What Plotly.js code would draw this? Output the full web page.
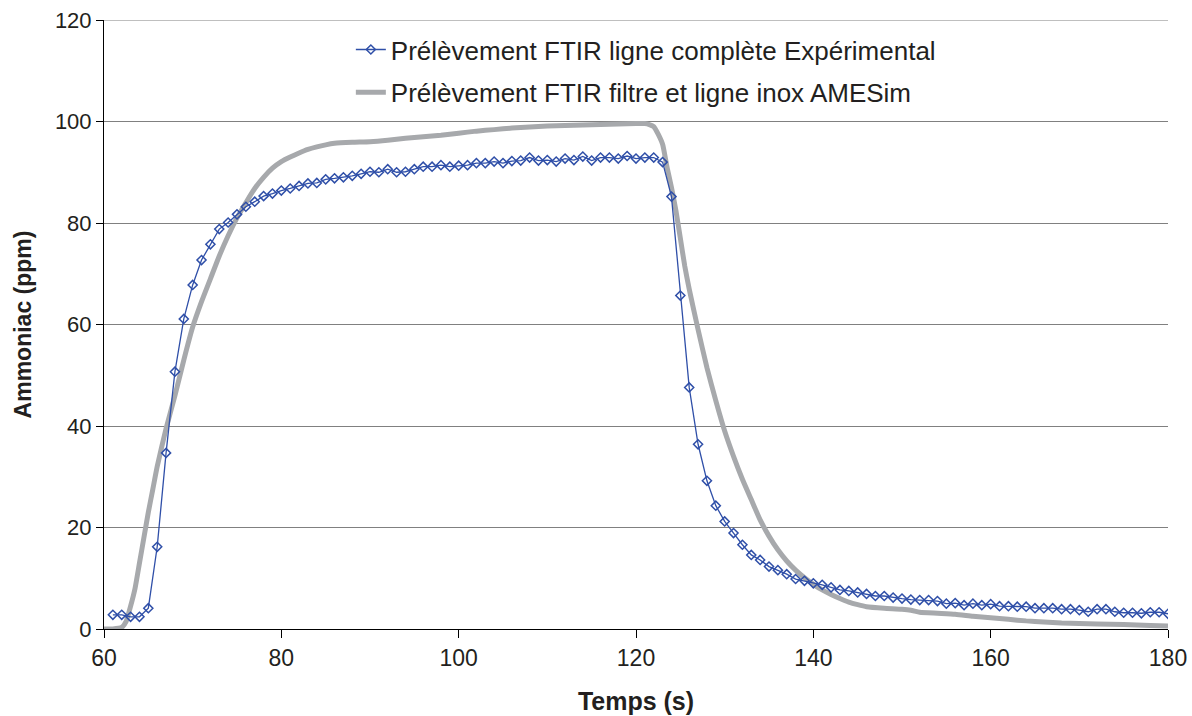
<!DOCTYPE html>
<html>
<head>
<meta charset="utf-8">
<script src="https://cdn.plot.ly/plotly-3.0.1.min.js"></script>
<style>html,body{margin:0;padding:0;background:#fff;}#chart{width:1192px;height:716px;}</style>
</head>
<body>
<div id="chart"></div>
<script>
// Experimental series (1 s sampling)
const expTime = [];
for (let t = 61; t <= 180; t++) expTime.push(t);
const expValues = [
  2.8, 2.8, 2.4, 2.4, 4.1, 16.2, 34.7, 50.7, 61.1, 67.8,
  72.7, 75.8, 78.8, 80.1, 81.7, 83.2, 84.2, 85.3, 85.8, 86.4,
  86.8, 87.3, 87.8, 87.9, 88.6, 88.8, 89.0, 89.3, 89.7, 90.1,
  90.0, 90.6, 90.0, 90.1, 90.6, 91.1, 91.1, 91.4, 91.1, 91.3,
  91.4, 91.8, 91.8, 92.1, 91.8, 92.2, 92.3, 92.9, 92.3, 92.4,
  92.1, 92.7, 92.4, 93.1, 92.3, 92.9, 92.9, 92.7, 93.2, 92.7,
  92.9, 92.9, 92.0, 85.2, 65.7, 47.6, 36.4, 29.2, 24.3, 21.2,
  18.9, 16.6, 14.6, 13.6, 12.3, 11.6, 10.8, 9.85, 9.5, 9.0,
  8.7, 8.2, 7.7, 7.5, 7.2, 6.9, 6.5, 6.5, 6.2, 6.0,
  5.8, 5.7, 5.7, 5.5, 5.0, 5.1, 4.7, 5.0, 4.7, 4.9,
  4.5, 4.5, 4.4, 4.4, 4.1, 4.1, 4.1, 3.9, 3.9, 3.7,
  3.4, 3.9, 3.9, 3.4, 3.2, 3.2, 3.1, 3.3, 3.3, 3.0
];

// AMESim simulation series
const simTime = [
  60, 61, 62, 62.5, 63, 63.5, 64, 64.5, 65, 65.5, 66, 67, 68, 69, 70,
  71, 72, 73, 74, 75, 76, 77, 78, 79, 80, 81, 82, 83, 84, 85, 86, 88,
  90, 92, 94, 96, 98, 100, 102, 104, 106, 108, 110, 112, 114, 116, 118,
  120, 121, 121.5, 122, 122.5, 123, 123.5, 124, 124.5, 125, 125.5, 126,
  127, 128, 129, 130, 131, 132, 133, 134, 135, 136, 137, 138, 139, 140,
  141, 142, 143, 144, 145, 146, 148, 150, 151, 152, 154, 156, 158, 160,
  162, 164, 166, 168, 170, 172, 175, 178, 180
];
const simValues = [
  0, 0, 0.3, 1.5, 4.5, 8, 13, 18, 23, 27.5, 32, 39.5, 46, 53, 59.5,
  64.5, 69, 73.5, 77.5, 81, 84, 86.8, 89, 90.8, 92.1, 93, 93.8, 94.5, 95, 95.4, 95.7, 95.9,
  96.0, 96.3, 96.7, 97, 97.3, 97.7, 98.1, 98.4, 98.7, 98.9, 99.1, 99.2, 99.3, 99.4, 99.5,
  99.6, 99.6, 99.4, 99, 97.5, 95.5, 91, 87, 82.5, 77, 71.5, 67,
  59, 51.5, 45, 39, 34, 29.5, 25.5, 21.5, 18.3, 15.6, 13.4, 11.6, 10.1, 8.8,
  7.7, 6.8, 6, 5.3, 4.8, 4.4, 4.1, 3.9, 3.7, 3.3, 3.1, 2.9, 2.5, 2.2,
  1.9, 1.6, 1.4, 1.2, 1.1, 1.0, 0.9, 0.7, 0.6
];

const seriesNames = [
  'Prélèvement FTIR ligne complète Expérimental',
  'Prélèvement FTIR filtre et ligne inox AMESim'
];
const xTicks = [60, 80, 100, 120, 140, 160, 180];
const yTicks = [0, 20, 40, 60, 80, 100, 120];

const FONT = '"Liberation Sans", Arial, Helvetica, sans-serif';
const TXT = '#231f20';

const traces = [
  {
    x: simTime, y: simValues, name: seriesNames[1], type: 'scatter', mode: 'lines',
    line: {color: '#a7a9ac', width: 5, shape: 'spline', smoothing: 0.5},
    legendgroup: 'b', legendrank: 2
  },
  {
    x: expTime, y: expValues, name: seriesNames[0], type: 'scatter', mode: 'lines+markers',
    line: {color: '#2f4fa8', width: 1.3},
    marker: {symbol: 'diamond-open', size: 7, color: '#2f4fa8', line: {width: 1.5, color: '#2f4fa8'}},
    legendgroup: 'a', legendrank: 1
  }
];

const layout = {
  width: 1192, height: 716,
  margin: {l: 104, r: 24, t: 20, b: 87},
  paper_bgcolor: '#ffffff', plot_bgcolor: '#ffffff',
  font: {family: FONT, color: TXT, size: 22},
  showlegend: true,
  legend: {
    x: 0.232, y: 0.99, xanchor: 'left', yanchor: 'top',
    traceorder: 'grouped', tracegroupgap: 6,
    font: {family: FONT, size: 26, color: TXT},
    bgcolor: 'rgba(0,0,0,0)', borderwidth: 0
  },
  shapes: [
    {type: 'line', xref: 'paper', yref: 'y', x0: 0, x1: 1, y0: 120, y1: 120,
     line: {color: '#808080', width: 1}, layer: 'below'}
  ],
  xaxis: {
    range: [60, 180], tickvals: xTicks, ticktext: xTicks.map(String),
    showgrid: false, zeroline: false, showline: true, linecolor: '#000', linewidth: 1,
    ticks: 'outside', ticklen: 8, tickcolor: '#000', tickwidth: 1,
    tickfont: {family: FONT, size: 23, color: TXT},
    title: {text: 'Temps (s)', font: {family: FONT, size: 25, color: TXT, weight: 'bold'}, standoff: 22},
    automargin: false
  },
  yaxis: {
    range: [0, 120], tickvals: yTicks, ticktext: yTicks.map(String),
    showgrid: true, gridcolor: '#808080', gridwidth: 1,
    zeroline: false, showline: true, linecolor: '#000', linewidth: 1,
    ticks: 'outside', ticklen: 7, tickcolor: '#000', tickwidth: 1,
    tickfont: {family: FONT, size: 22, color: TXT},
    title: {text: 'Ammoniac (ppm)', font: {family: FONT, size: 23, color: TXT, weight: 'bold'}, standoff: 16},
    automargin: false
  }
};

Plotly.newPlot('chart', traces, layout, {displayModeBar: false, staticPlot: true});
</script>
</body>
</html>
